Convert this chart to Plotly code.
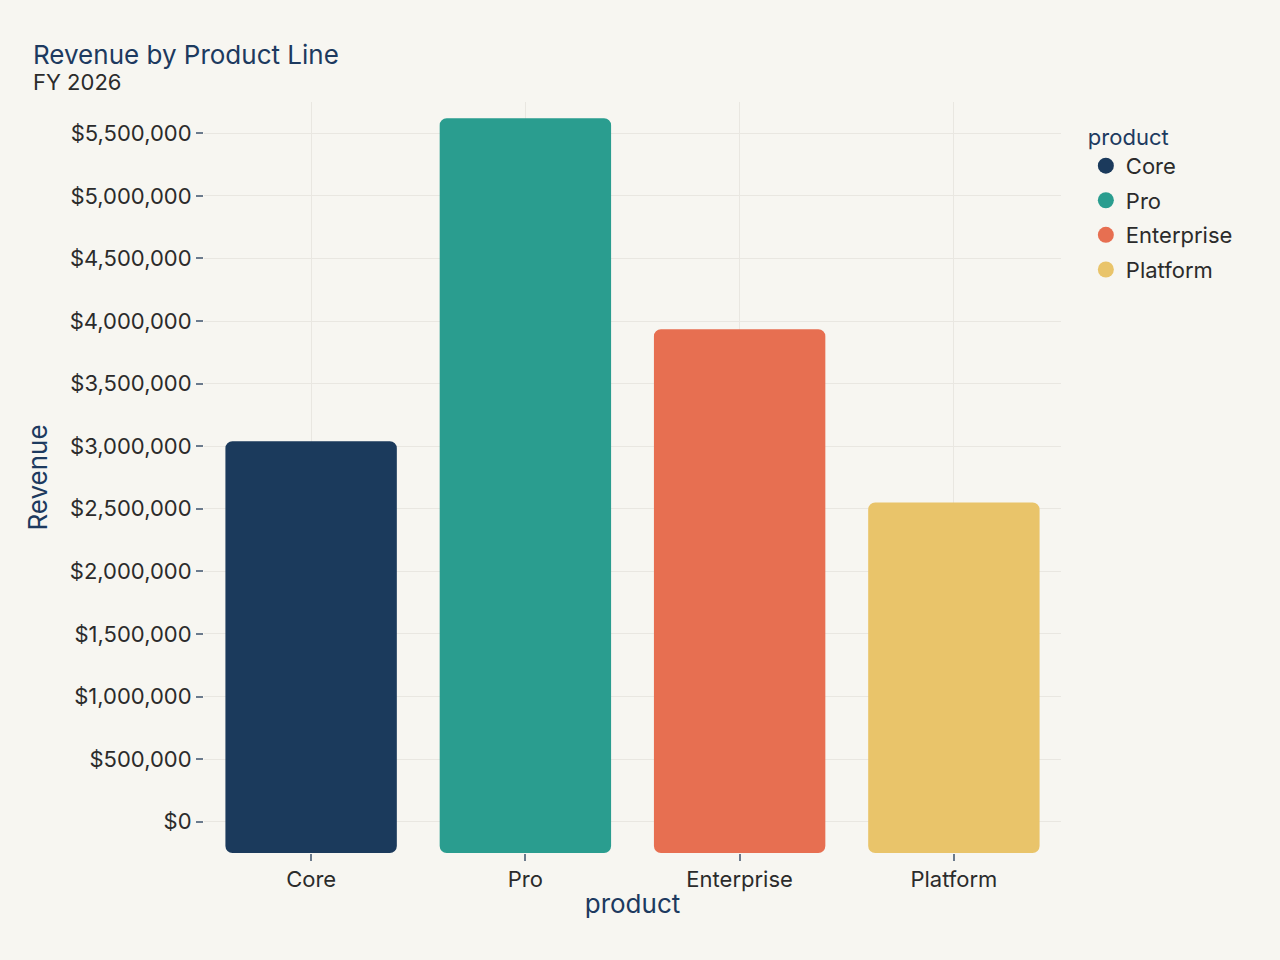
import plotly.graph_objects as go

products = ["Core", "Pro", "Enterprise", "Platform"]
revenue = [3040000, 5620000, 3935000, 2550000]
colors = ["#1b3a5c", "#2a9d8f", "#e76f51", "#e9c46a"]
y_ticks = list(range(0, 5500001, 500000))
y_tick_labels = [f"${v:,}" for v in y_ticks]
Y_RANGE = [-250000, 5750000]

NAVY = "#1d3a5f"
TEXT = "#2b2b2b"
BG = "#f7f6f1"
GRID = "#e9e7e1"
TICK = "#6b7a8c"

fig = go.Figure()
for p, v, c in zip(products, revenue, colors):
    # bar drawn from the bottom of the value axis, rounded at both ends
    fig.add_trace(go.Bar(
        x=[p], y=[v - Y_RANGE[0]], base=Y_RANGE[0], name=p, showlegend=False,
        customdata=[v],
        marker=dict(color=c, cornerradius=7, line=dict(width=0)),
        hovertemplate="product=%{x}<br>Revenue=$%{customdata:,}<extra></extra>",
    ))
for p, c in zip(products, colors):
    fig.add_trace(go.Scatter(
        x=[None], y=[None], mode="markers", name=p, legendgroup=p,
        marker=dict(color=c, size=16, symbol="circle"),
    ))

fig.update_layout(
    width=1280, height=960,
    paper_bgcolor=BG, plot_bgcolor=BG,
    font=dict(family="Inter", size=22, color=TEXT),
    barmode="overlay", bargap=0.2,
    margin=dict(l=204, r=219, t=102, b=107),
    title=dict(
        text="Revenue by Product Line",
        font=dict(size=26, color=NAVY),
        x=33 / 1280, xanchor="left", xref="container",
        y=1 - 55 / 960, yanchor="middle", yref="container",
    ),
    annotations=[dict(
        text="FY 2026", xref="paper", yref="paper",
        x=(31 - 204) / 857, xanchor="left",
        y=(853 - 82) / 751, yanchor="middle",
        showarrow=False, font=dict(size=22, color=TEXT),
    )],
    legend=dict(
        title=dict(text="product", font=dict(color=NAVY, size=22)),
        x=1.029, xanchor="left", y=0.981, yanchor="top",
        bgcolor="rgba(0,0,0,0)", font=dict(size=22, color=TEXT),
        tracegroupgap=3,
    ),
    xaxis=dict(
        title=dict(text="product", font=dict(size=26, color=NAVY), standoff=3),
        categoryorder="array", categoryarray=products,
        showgrid=True, gridcolor=GRID, gridwidth=1,
        ticks="outside", ticklen=7, tickcolor=TICK, tickwidth=1.5,
        showline=False, zeroline=False,
    ),
    yaxis=dict(
        title=dict(text="Revenue", font=dict(size=26, color=NAVY), standoff=14),
        range=Y_RANGE, tickvals=y_ticks, ticktext=y_tick_labels,
        showgrid=True, gridcolor=GRID, gridwidth=1,
        ticks="outside", ticklen=7, tickcolor=TICK, tickwidth=1.5,
        showline=False, zeroline=False,
    ),
)

fig.write_html("out.html")
